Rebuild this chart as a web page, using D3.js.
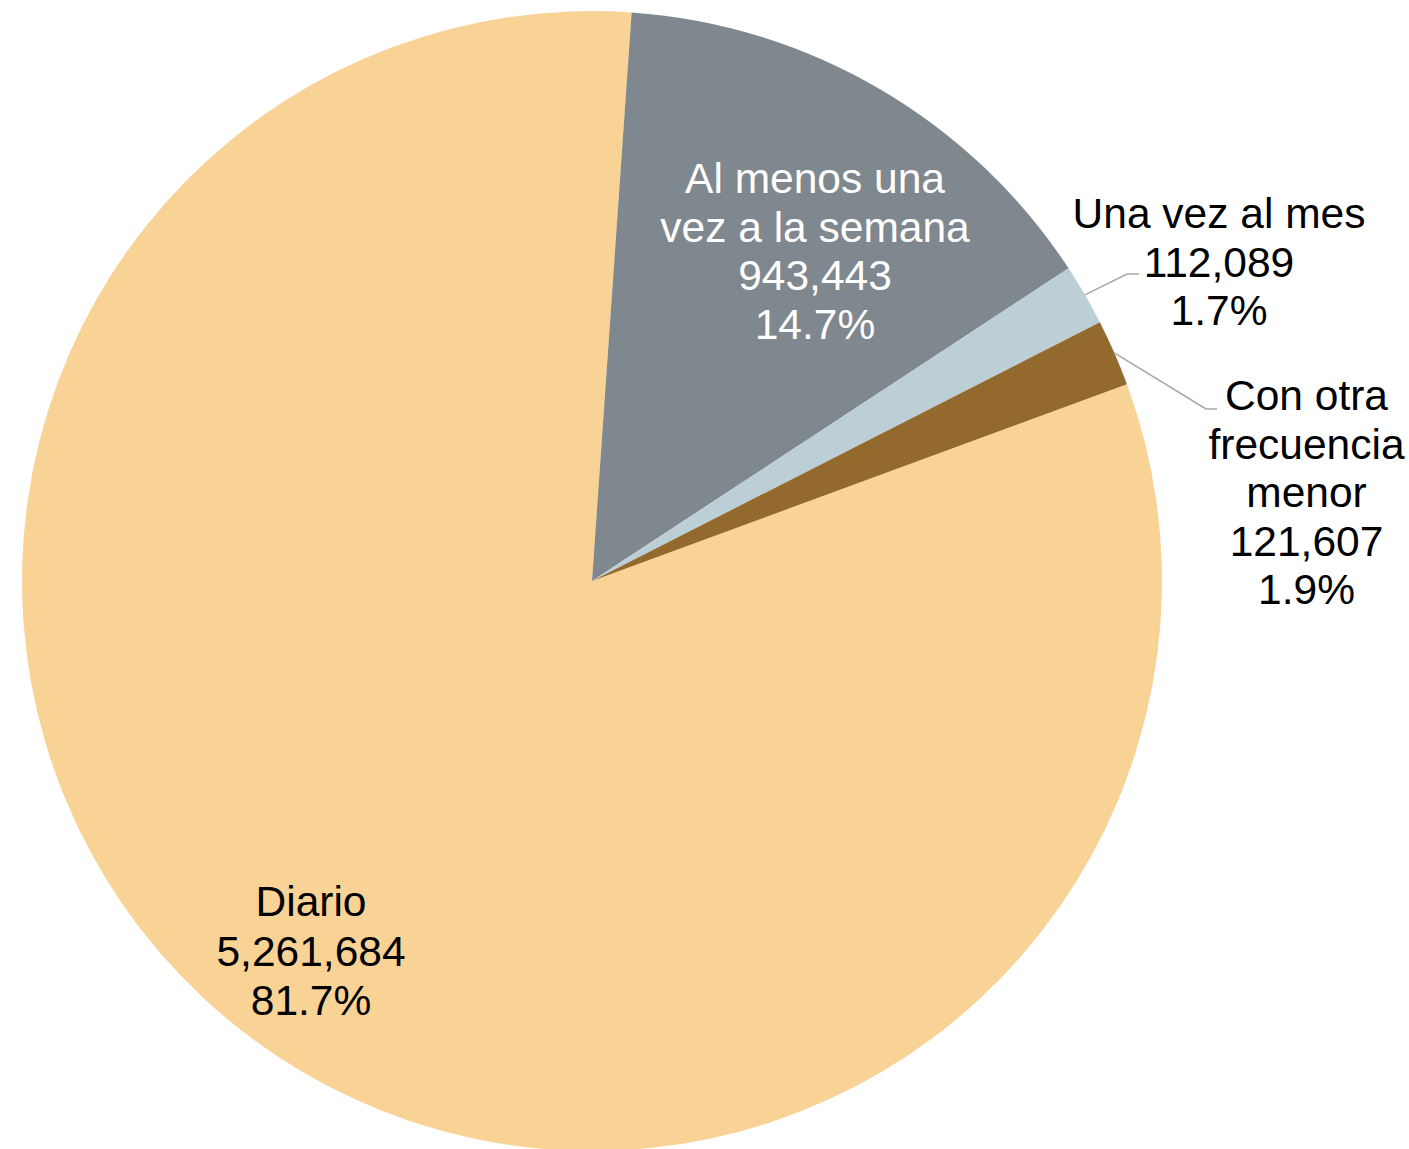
<!DOCTYPE html>
<html>
<head>
<meta charset="utf-8">
<script src="https://cdn.jsdelivr.net/npm/d3@7/dist/d3.min.js"></script>
<style>
  html, body { margin: 0; padding: 0; background: #ffffff; }
  svg { display: block; }
</style>
</head>
<body>
<script>
// ---- Data ----
const categories = ["Diario", "Al menos una vez a la semana", "Una vez al mes", "Con otra frecuencia menor"];
const values = [5261684, 943443, 112089, 121607];
const labelLines = [["Diario"], ["Al menos una", "vez a la semana"], ["Una vez al mes"], ["Con otra", "frecuencia", "menor"]];
const colors = ["#F9D396", "#7F888E", "#BCCFD7", "#94692E"];
const labelColors = ["#000000", "#ffffff", "#000000", "#000000"];

// ---- Layout ----
const W = 1409, H = 1149;
const cx = 592, cy = 581, R = 570;
const startDeg = 69.8;
const fontSize = 42.5;
// label placement relative to pie centre: [x centre, first baseline, line step]
const labelPos = [[-281, 335, 49.5], [223, -388, 48.7], [627, -353, 48.5], [714.5, -171, 48.5]];
// leader lines (elbow and end point, relative to centre), null = none
const leaders = [null, null, [[535, -307], [547, -307]], [[614, -172], [625, -172]]];

const svg = d3.select("body").append("svg").attr("width", W).attr("height", H);
const g = svg.append("g").attr("transform", `translate(${cx},${cy})`);

const data = categories.map((c, i) => ({ cat: c, value: values[i], i }));
const total = d3.sum(values);
const start = startDeg * Math.PI / 180;
const pie = d3.pie().sort(null).value(d => d.value).startAngle(start).endAngle(start + 2 * Math.PI);
const arcs = pie(data);
const arc = d3.arc().innerRadius(0).outerRadius(R);

g.selectAll("path.slice").data(arcs).join("path")
  .attr("class", "slice")
  .attr("d", arc)
  .attr("fill", d => colors[d.data.i]);

// leader lines
arcs.forEach(a => {
  const l = leaders[a.data.i];
  if (!l) return;
  const mid = (a.startAngle + a.endAngle) / 2;
  const p0 = [Math.sin(mid) * R, -Math.cos(mid) * R];
  g.append("polyline")
    .attr("points", [p0, l[0], l[1]].map(p => p.join(",")).join(" "))
    .attr("fill", "none")
    .attr("stroke", "#A6A6A6")
    .attr("stroke-width", 1.5);
});

const fmtNum = d3.format(",");
const fmtPct = d3.format(".1%");

arcs.forEach(a => {
  const i = a.data.i;
  const lines = labelLines[i].concat([fmtNum(a.data.value), fmtPct(a.data.value / total)]);
  const [x, y0, step] = labelPos[i];
  const t = g.append("text")
    .attr("text-anchor", "middle")
    .attr("font-family", "'Liberation Sans', Arial, sans-serif")
    .attr("font-size", fontSize)
    .attr("fill", labelColors[i]);
  lines.forEach((ln, k) => {
    t.append("tspan").attr("x", x).attr("y", y0 + k * step).text(ln);
  });
});
</script>
</body>
</html>
